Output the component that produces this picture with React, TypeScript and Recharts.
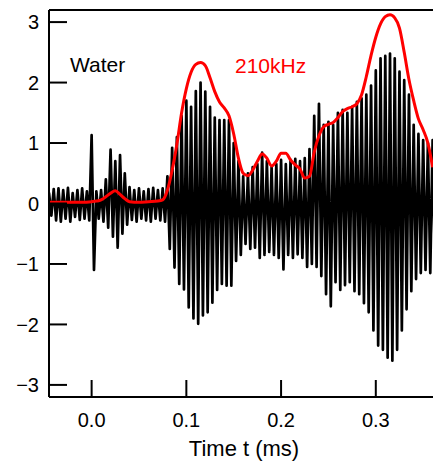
import { Line, LineChart, XAxis, YAxis } from 'recharts';

// black trace: one max and one min per carrier cycle (~200 kHz)
const cycleStart = -0.045;
const cyclePeriod = 0.005;

const upperPeaks = [
  0.18, 0.24, 0.25, 0.22, 0.26, 0.17, 0.22, 0.25, 0.2, 1.13,
  0.2, 0.22, 0.4, 0.89, 0.7, 0.8, 0.5, 0.27, 0.22, 0.25,
  0.2, 0.24, 0.26, 0.22, 0.25, 0.45, 0.92, 1.1, 1.45, 1.7,
  1.6, 1.86, 2.0, 1.85, 1.6, 1.42, 1.38, 1.38, 1.38, 1.0,
  0.7, 0.45, 0.5, 0.6, 0.65, 0.84, 0.7, 0.6, 0.65, 0.72,
  0.65, 0.72, 0.74, 0.7, 0.75, 0.9, 1.45, 1.65, 1.3, 1.35,
  1.3, 1.5, 1.55, 1.5, 1.6, 1.68, 1.74, 1.8, 1.95, 2.2,
  2.4, 2.44, 2.48, 2.4, 2.18, 2.04, 1.8, 1.3, 1.15, 1.05,
  1.0, 1.05,
];

const lowerPeaks = [
  -0.2, -0.28, -0.3, -0.25, -0.3, -0.22, -0.27, -0.25, -0.28, -1.1,
  -0.25, -0.3, -0.4, -0.55, -0.73, -0.5, -0.35, -0.27, -0.3, -0.25,
  -0.28, -0.3, -0.25, -0.28, -0.3, -0.75, -1.06, -1.33, -1.42, -1.72,
  -1.9, -1.99, -1.85, -1.8, -1.64, -1.43, -1.33, -1.36, -1.36, -0.95,
  -0.85, -0.67, -0.75, -0.73, -0.9, -0.85, -0.8, -0.85, -0.9, -1.09,
  -0.85, -0.9, -0.84, -0.9, -1.05, -1.0, -1.05, -1.2, -1.5, -1.7,
  -1.3, -1.43, -1.35, -1.3, -1.45, -1.5, -1.65, -1.8, -2.1, -2.35,
  -2.42, -2.55, -2.6, -2.42, -2.1, -1.75, -1.45, -1.25, -1.15, -1.1,
  -1.15, -1.1,
];

// red envelope (210kHz)
const envelopeTime = [
  -0.045, -0.04, -0.03, -0.02, -0.01, 0, 0.005, 0.01, 0.015, 0.02,
  0.025, 0.03, 0.035, 0.04, 0.05, 0.06, 0.07, 0.075, 0.08, 0.085,
  0.09, 0.095, 0.1, 0.105, 0.11, 0.115, 0.12, 0.125, 0.13, 0.135,
  0.14, 0.145, 0.15, 0.155, 0.16, 0.165, 0.17, 0.175, 0.18, 0.185,
  0.19, 0.195, 0.2, 0.205, 0.21, 0.215, 0.22, 0.225, 0.23, 0.235,
  0.24, 0.245, 0.25, 0.255, 0.26, 0.265, 0.27, 0.275, 0.28, 0.285,
  0.29, 0.295, 0.3, 0.305, 0.31, 0.315, 0.32, 0.325, 0.33, 0.335,
  0.34, 0.345, 0.35, 0.355, 0.36,
];
const envelopeValue = [
  0.02, 0.02, 0.02, 0.02, 0.02, 0.03, 0.04, 0.06, 0.11, 0.17,
  0.21, 0.15, 0.08, 0.03, 0.02, 0.03, 0.04, 0.06, 0.22, 0.55,
  0.98, 1.5, 1.9, 2.17, 2.3, 2.33, 2.28, 2.08, 1.85, 1.68,
  1.58, 1.45, 1.15, 0.75, 0.5, 0.46, 0.55, 0.7, 0.82, 0.75,
  0.62, 0.7, 0.83, 0.83, 0.72, 0.64, 0.57, 0.42, 0.45, 0.85,
  1.12, 1.27, 1.31, 1.34, 1.42, 1.52, 1.57, 1.6, 1.65, 1.8,
  2.1, 2.45, 2.75, 2.97, 3.09, 3.12, 3.07, 2.9, 2.5, 2.05,
  1.7, 1.4, 1.22, 1.0, 0.6,
];

const xTicks = [0, 0.1, 0.2, 0.3];
const xTickLabels = ['0.0', '0.1', '0.2', '0.3'];
const yTicks = [-3, -2, -1, 0, 1, 2, 3];
const yTickLabels = ['\u22123', '\u22122', '\u22121', '0', '1', '2', '3'];

const signal = upperPeaks.flatMap((hi, i) => [
  { t: cycleStart + i * cyclePeriod, v: hi },
  { t: cycleStart + i * cyclePeriod + cyclePeriod / 2, v: lowerPeaks[i] },
]);
const envelope = envelopeTime.map((t, i) => ({ t, v: envelopeValue[i] }));

const FONT = '"Liberation Sans", Arial, sans-serif';
const X_DOMAIN: [number, number] = [-0.045, 0.3625];
const Y_DOMAIN: [number, number] = [-3.2, 3.2];
const axisLine = { stroke: '#000', strokeWidth: 2 };
const tickLine = { stroke: '#000', strokeWidth: 2 };
const tickFont = { fill: '#000', fontSize: 20, fontFamily: FONT };

export default function App() {
  return (
    <div
      style={{
        position: 'absolute',
        left: 0,
        top: 0,
        width: 433,
        height: 461,
        overflow: 'hidden',
        background: '#fff',
      }}
    >
      <LineChart width={440} height={461} margin={{ top: 0, right: 0, bottom: 0, left: 0 }}>
        <XAxis
          xAxisId="bottom"
          dataKey="t"
          type="number"
          domain={X_DOMAIN}
          allowDataOverflow
          ticks={xTicks}
          tickFormatter={(v: number) => xTickLabels[xTicks.indexOf(v)] ?? ''}
          height={64}
          axisLine={axisLine}
          tickLine={tickLine}
          tickSize={-17}
          tickMargin={33}
          tick={tickFont}
          interval={0}
        />
        <XAxis
          xAxisId="top"
          orientation="top"
          dataKey="t"
          type="number"
          domain={X_DOMAIN}
          allowDataOverflow
          ticks={xTicks}
          height={10}
          axisLine={axisLine}
          tickLine={tickLine}
          tickSize={-18}
          tick={false}
          interval={0}
        />
        <YAxis
          yAxisId="left"
          type="number"
          domain={Y_DOMAIN}
          allowDataOverflow
          ticks={yTicks}
          tickFormatter={(v: number) => yTickLabels[yTicks.indexOf(v)] ?? ''}
          width={49}
          axisLine={axisLine}
          tickLine={tickLine}
          tickSize={-18}
          tickMargin={28}
          tick={tickFont}
          interval={0}
        />
        <YAxis
          yAxisId="right"
          orientation="right"
          type="number"
          domain={Y_DOMAIN}
          allowDataOverflow
          ticks={yTicks}
          width={5}
          axisLine={axisLine}
          tickLine={tickLine}
          tickSize={-17}
          tick={false}
          interval={0}
        />
        <Line
          xAxisId="bottom"
          yAxisId="left"
          data={signal}
          dataKey="v"
          type="linear"
          stroke="#000"
          strokeWidth={2.7}
          strokeLinejoin="round"
          dot={false}
          isAnimationActive={false}
        />
        <Line
          xAxisId="bottom"
          yAxisId="left"
          data={envelope}
          dataKey="v"
          type="monotone"
          stroke="#ff0000"
          strokeWidth={3}
          dot={false}
          isAnimationActive={false}
        />
      </LineChart>
      <svg
        width={433}
        height={461}
        style={{ position: 'absolute', left: 0, top: 0, pointerEvents: 'none' }}
      >
        <text x={70} y={72} fontSize={21} fontFamily={FONT} fill="#000">
          Water
        </text>
        <text x={235} y={73} fontSize={21} fontFamily={FONT} fill="#ff0000">
          210kHz
        </text>
        <text x={244} y={456} fontSize={22} fontFamily={FONT} fill="#000" textAnchor="middle">
          Time t (ms)
        </text>
      </svg>
    </div>
  );
}
